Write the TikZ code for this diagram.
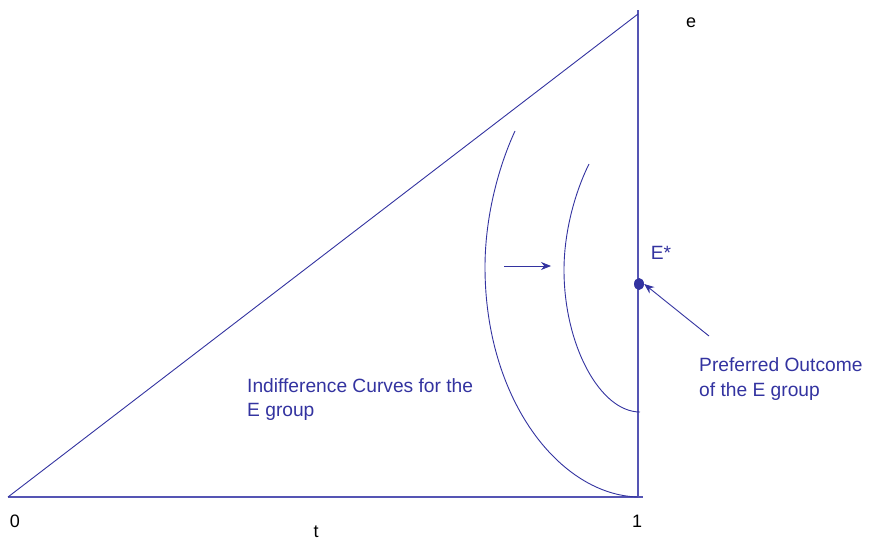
\documentclass[tikz,border=0pt]{standalone}
\usepackage{fontspec}
\setmainfont{Liberation Sans}
\usetikzlibrary{arrows.meta,shapes.geometric}
\definecolor{ppblue}{RGB}{51,51,160}
\definecolor{axblue}{RGB}{85,85,180}
\tikzset{
  axis/.style={draw=axblue, line width=1.4pt},
  curve/.style={draw=ppblue, line width=0.9pt},
  blab/.style={text=ppblue, font=\fontsize{19.2}{24.5}\selectfont, inner sep=0pt, align=left},
  klab/.style={text=black, font=\fontsize{18}{22}\selectfont, inner sep=0pt},
  arr/.style={draw=ppblue, line width=0.9pt, -{Stealth[length=10pt,width=8pt]}}
}
\begin{document}
\begin{tikzpicture}[x=1pt,y=-1pt]
\useasboundingbox (0,0) rectangle (869,543);
% corner points
\coordinate (O) at (8,497);
\coordinate (R) at (638,497);
\coordinate (Rend) at (643,497);
\coordinate (T) at (638,14);
\coordinate (Ttop) at (638,10);
% axes and diagonal
\draw[axis] (O) -- (Rend);
\draw[axis] (R) -- (Ttop);
\draw[curve] (O) -- (T);
% outer indifference curve
\draw[curve] (515,131) .. controls (497,170) and (485,220) .. (485,267)
             .. controls (485,400) and (560,495) .. (R);
% inner indifference curve
\coordinate (Ri) at (640,412);
\draw[curve] (589,164) .. controls (576,190) and (564,230) .. (564,270)
             .. controls (564,345) and (600,412) .. (Ri);
% shift arrow
\coordinate (sa) at (504,266);
\coordinate (sb) at (551,266);
\draw[arr] (sa) -- (sb);
% preferred outcome point
\node[ellipse, fill=ppblue, minimum width=10pt, minimum height=12pt, inner sep=0pt] (Est) at (639,284) {};
\coordinate (pa) at (709,336);
\draw[arr] (pa) -- (Est.east);
% labels
\node[blab, anchor=center] (Elab) at (661,253) {E*};
\node[blab, anchor=west] (pref) at (699,379) {Preferred Outcome\\of the E group};
\node[blab, anchor=west] (ind) at (247,399.5) {Indifference Curves for the\\E group};
\node[klab] (e) at (691,23) {e};
\node[klab] (zero) at (15,521) {0};
\node[klab] (one) at (637,521) {1};
\node[klab] (t) at (316,532) {t};
\end{tikzpicture}
\end{document}
